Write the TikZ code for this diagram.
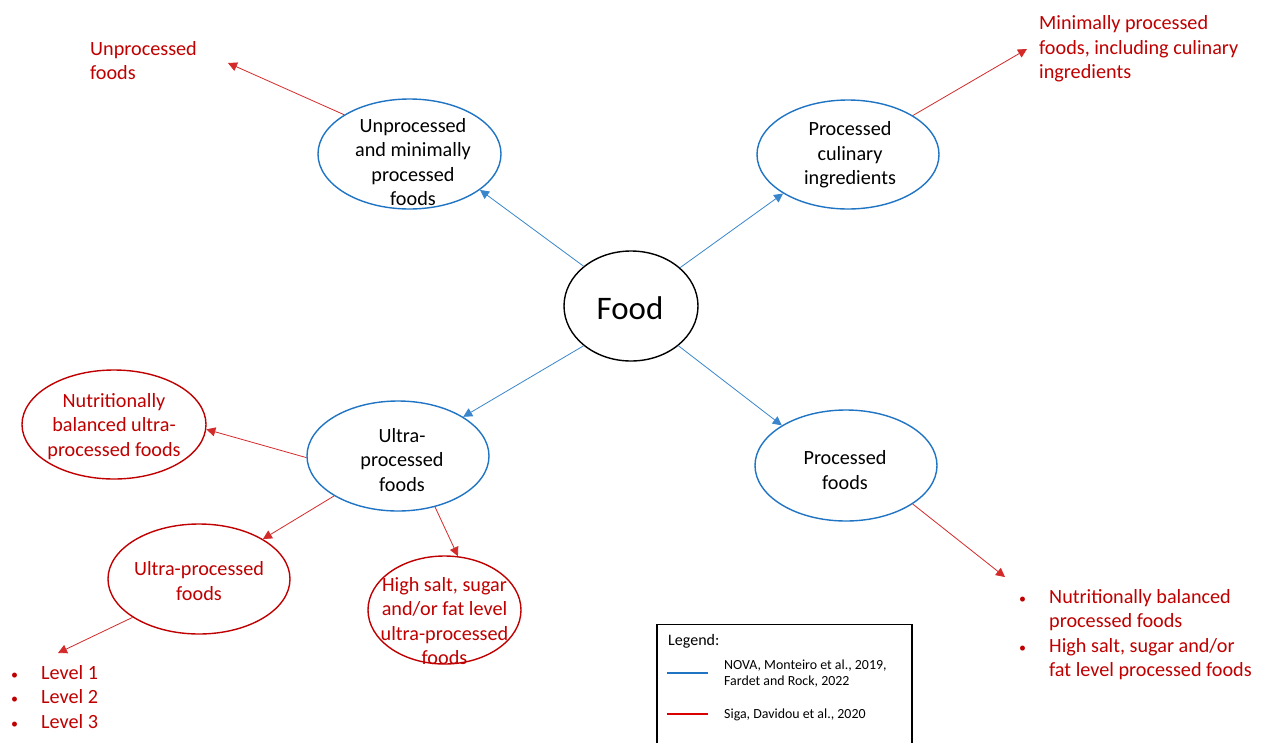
\documentclass[tikz,border=0pt]{standalone}
\usepackage{fontspec}
\setmainfont{Carlito}
\usetikzlibrary{shapes.geometric,arrows.meta}
\definecolor{eblue}{HTML}{1F74C4}
\definecolor{lblue}{HTML}{3A86CC}
\definecolor{ered}{HTML}{C00000}
\definecolor{lred}{HTML}{D42A2A}
\tikzset{
  ell/.style={ellipse, draw=eblue, line width=1.4pt, inner sep=0pt},
  rell/.style={ellipse, draw=ered, line width=1.4pt, inner sep=0pt},
  btxt/.style={align=center, font=\fontsize{20.2}{24.4}\selectfont, text=black, inner sep=0pt},
  rtxt/.style={align=center, font=\fontsize{20.2}{24.4}\selectfont, text=ered, inner sep=0pt},
  otxt/.style={align=left, font=\fontsize{20.2}{24.4}\selectfont, text=ered, inner sep=0pt, anchor=west},
  barrow/.style={draw=lblue, line width=0.8pt, -{Triangle[length=9pt,width=9pt]}},
  rarrow/.style={draw=lred, line width=0.8pt, -{Triangle[length=9pt,width=9pt]}},
  legtxt/.style={align=left, font=\fontsize{13.9}{16}\selectfont, text=black, inner sep=0pt, anchor=west}
}
\newcommand{\bul}{\makebox[30pt][l]{\fontsize{14}{14}\selectfont •}}
\newcommand{\bsp}{\hspace*{30pt}}
\begin{document}
\begin{tikzpicture}[x=1pt,y=-1pt]
\useasboundingbox (0,0) rectangle (1264,742);
\fill[white] (0,0) rectangle (1264,742);

% ellipses
\node[ellipse, draw=black, line width=1.4pt, minimum width=134pt, minimum height=110pt, inner sep=0pt] (food) at (631,306) {};
\node[font=\fontsize{32.9}{40}\selectfont, inner sep=0pt] (foodt) at (630,308) {Food};

\node[ell, minimum width=183pt, minimum height=110pt] (unp) at (409.5,154) {};
\node[btxt] (unpt) at (413,162) {Unprocessed\\and minimally\\processed\\foods};

\node[ell, minimum width=182pt, minimum height=109pt] (cul) at (848,154.5) {};
\node[btxt] (cult) at (850,155) {Processed\\culinary\\ingredients};

\node[ell, minimum width=182pt, minimum height=110pt] (ultra) at (398,456) {};
\node[btxt] (ultrat) at (402,460) {Ultra-\\processed\\foods};

\node[ell, minimum width=182pt, minimum height=111pt] (proc) at (846,465.5) {};
\node[btxt] (proct) at (845,470) {Processed\\foods};

\node[rell, minimum width=184pt, minimum height=109pt] (nut) at (114,424.5) {};
\node[rtxt] (nutt) at (114,426.5) {Nutritionally\\balanced ultra-\\processed foods};

\node[rell, minimum width=182pt, minimum height=110pt] (rup) at (199,579) {};
\node[rtxt] (rupt) at (199,581) {Ultra-processed\\foods};

\node[rell, minimum width=153pt, minimum height=108pt] (hs) at (444.5,610) {};
\node[rtxt] (hst) at (444.5,621) {High salt, sugar\\and/or fat level\\ultra-processed\\foods};

% outside texts
\node[otxt] (unpo) at (90,60.5) {Unprocessed\\foods};
\node[otxt] (mino) at (1039,49) {Minimally processed\\foods, including culinary\\ingredients};
\node[otxt] (procl) at (1019,634.5) {\bul Nutritionally balanced\\\bsp processed foods\\\bul High salt, sugar and/or\\\bsp fat level processed foods};
\node[otxt] (lev) at (11,697) {\bul Level 1\\\bul Level 2\\\bul Level 3};

% free ends
\coordinate (unpE) at (228,63);
\coordinate (minE) at (1027,49);
\coordinate (procE) at (1005,577);
\coordinate (levE) at (58,653);

% blue arrows
\draw[barrow] (food.140) -- (unp.-27.7);
\draw[barrow] (food.38.5) -- (cul.211.9);
\draw[barrow] (food.220.5) -- (ultra.31);
\draw[barrow] (food.-40) -- (proc.148.3);

% red arrows
\draw[rarrow] (unp.149.5) -- (unpE);
\draw[rarrow] (cul.31.3) -- (minE);
\draw[rarrow] (ultra.181) -- (nut.-3);
\draw[rarrow] (ultra.212) -- (rup.32.6);
\draw[rarrow] (ultra.-54) -- (hs.76);
\draw[rarrow] (proc.-30.6) -- (procE);
\draw[rarrow] (rup.210.6) -- (levE);

% legend
\draw[black, line width=1.4pt] (657,760) -- (657,624.5) -- (912,624.5) -- (912,760);
\node[anchor=west, font=\fontsize{16}{18}\selectfont, inner sep=0pt] (legt) at (668,641) {Legend:};
\coordinate (lb1) at (667,673);
\coordinate (lb2) at (708,673);
\coordinate (lr1) at (667,714);
\coordinate (lr2) at (708,714);
\draw[eblue, line width=1.4pt] (lb1) -- (lb2);
\draw[red!85!black, line width=1.4pt] (lr1) -- (lr2);
\node[legtxt] (legb) at (724,674) {NOVA, Monteiro et al., 2019,\\Fardet and Rock, 2022};
\node[legtxt] (legr) at (724,715) {Siga, Davidou et al., 2020};
\end{tikzpicture}
\end{document}
